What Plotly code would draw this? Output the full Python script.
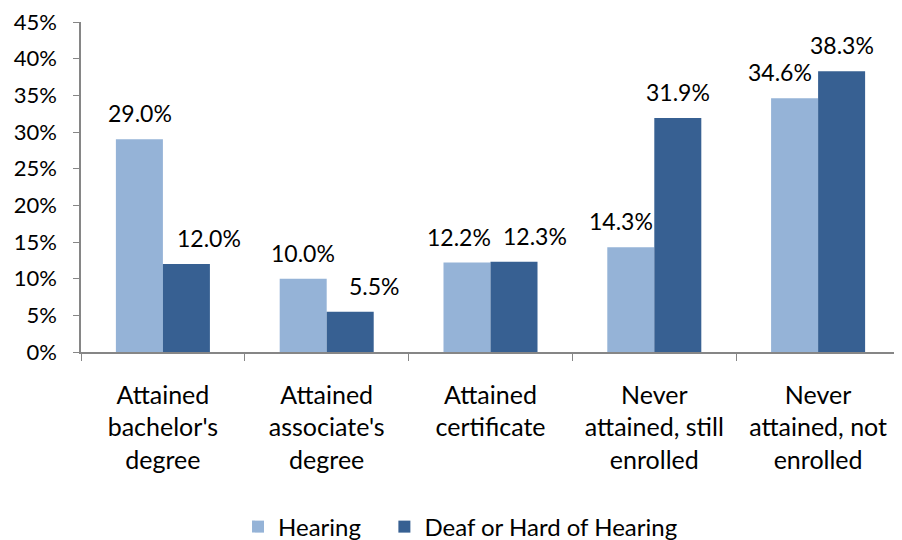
import plotly.graph_objects as go

categories = [
    "Attained<br>bachelor's<br>degree",
    "Attained<br>associate's<br>degree",
    "Attained<br>certificate",
    "Never<br>attained, still<br>enrolled",
    "Never<br>attained, not<br>enrolled",
]
hearing = [29.0, 10.0, 12.2, 14.3, 34.6]
deaf = [12.0, 5.5, 12.3, 31.9, 38.3]
y_ticks = [0, 5, 10, 15, 20, 25, 30, 35, 40, 45]

# hand-nudged label positions (px), as in the original chart
hearing_nudge = [0, 0, -8, -10, -15]
deaf_nudge = [23, 24, 21, 0, 0]
half_bar = 23.4

font_family = "Lato, 'Open Sans', sans-serif"

fig = go.Figure()

# trailing non-breaking spaces widen the gap between the two legend entries
fig.add_trace(
    go.Bar(x=categories, y=hearing, name="Hearing" + "\u00a0" * 3, marker_color="#95B3D7")
)
fig.add_trace(
    go.Bar(x=categories, y=deaf, name="Deaf or Hard of Hearing", marker_color="#376092")
)
fig.update_traces(marker_line_width=0)

# data labels
for series, sign, nudge in [(hearing, -1, hearing_nudge), (deaf, 1, deaf_nudge)]:
    for cat, val, dx in zip(categories, series, nudge):
        fig.add_annotation(
            x=cat,
            y=val,
            text=f"{val:.1f}%",
            showarrow=False,
            xshift=sign * half_bar + dx,
            yshift=26,
            yanchor="middle",
            font=dict(size=23, color="black"),
        )

# page body adds an 8px margin, so the figure is a bit smaller than the window
fig.update_layout(
    width=894,
    height=532,
    margin=dict(l=73, r=2, t=14, b=188, autoexpand=False),
    plot_bgcolor="white",
    paper_bgcolor="white",
    font=dict(family=font_family, size=22, color="black"),
    barmode="group",
    bargap=0.426,
    bargroupgap=0,
    showlegend=True,
    legend=dict(
        orientation="h",
        xref="container",
        x=0.2573,
        xanchor="left",
        yref="container",
        y=0.0244,
        yanchor="middle",
        font=dict(size=24),
    ),
)

fig.update_yaxes(
    range=[0, 45],
    tickvals=y_ticks,
    ticktext=[f"{v}%" for v in y_ticks],
    showgrid=False,
    showline=True,
    linecolor="#868686",
    linewidth=1.5,
    ticks="outside",
    ticklen=6,
    tickcolor="#868686",
    ticklabelstandoff=12,
    ticklabeloverflow="allow",
    tickfont=dict(size=22),
    zeroline=False,
)

fig.update_xaxes(
    showline=True,
    linecolor="#868686",
    linewidth=1.5,
    ticks="outside",
    tickson="boundaries",
    ticklen=7,
    tickcolor="#868686",
    ticklabelstandoff=20,
    tickfont=dict(size=25),
    showgrid=False,
)

fig.write_html("out.html")
